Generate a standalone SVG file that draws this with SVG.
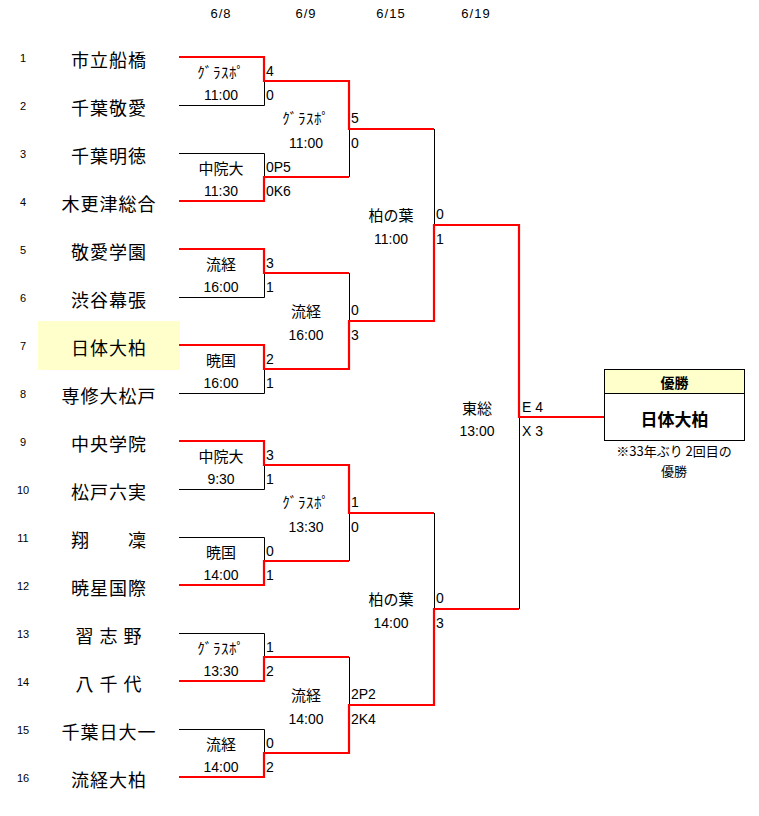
<svg xmlns="http://www.w3.org/2000/svg" width="759" height="816" viewBox="0 0 759 816">
<style>
.bg{fill:#ffffff}
.date{font-family:"Liberation Sans",sans-serif;font-size:13px;letter-spacing:1px;fill:#000;text-anchor:middle;dominant-baseline:central}
.num{font-family:"Liberation Sans",sans-serif;font-size:11px;fill:#000;text-anchor:middle;dominant-baseline:central}
.team{font-family:"Noto Sans CJK JP",sans-serif;font-size:18px;letter-spacing:1px;fill:#000;text-anchor:middle;dominant-baseline:central}
.ven{font-family:"Noto Sans CJK JP",sans-serif;font-size:15px;fill:#000;text-anchor:middle;dominant-baseline:central}
.kana{letter-spacing:0.6px}
.time{font-family:"Liberation Sans",sans-serif;font-size:14px;fill:#000;text-anchor:middle;dominant-baseline:central}
.sc{font-family:"Liberation Sans",sans-serif;font-size:14px;fill:#000;dominant-baseline:central}
.blk{fill:none;stroke:#000;stroke-width:1}
.red{fill:none;stroke:#ff0000;stroke-width:2.2;stroke-linejoin:miter}
.hl{fill:#ffffcc}
.box{fill:#fff;stroke:#000;stroke-width:1}
.boxh{fill:#ffffcc;stroke:#000;stroke-width:1}
.champh{font-family:"Noto Sans CJK JP",sans-serif;font-size:14px;font-weight:bold;fill:#000;text-anchor:middle;dominant-baseline:central}
.champ{font-family:"Noto Sans CJK JP",sans-serif;font-size:17px;font-weight:bold;fill:#000;text-anchor:middle;dominant-baseline:central}
.note{font-family:"Noto Sans CJK JP",sans-serif;font-size:13px;fill:#000;text-anchor:middle;dominant-baseline:central}
</style>
<rect class="bg" x="0" y="0" width="759" height="816"/>

<g id="dates">
<text class="date" x="221" y="13">6/8</text>
<text class="date" x="306" y="13">6/9</text>
<text class="date" x="391" y="13">6/15</text>
<text class="date" x="476" y="13">6/19</text>
</g>

<rect class="hl" x="38" y="321" width="142" height="49"/>

<g id="teams">
<g id="team-1"><text class="num" x="23" y="58">1</text><text class="team" x="109" y="58.5">市立船橋</text></g>
<g id="team-2"><text class="num" x="23" y="106">2</text><text class="team" x="109" y="106.5">千葉敬愛</text></g>
<g id="team-3"><text class="num" x="23" y="154">3</text><text class="team" x="109" y="154.5">千葉明徳</text></g>
<g id="team-4"><text class="num" x="23" y="202">4</text><text class="team" x="109" y="202.5">木更津総合</text></g>
<g id="team-5"><text class="num" x="23" y="250">5</text><text class="team" x="109" y="250.5">敬愛学園</text></g>
<g id="team-6"><text class="num" x="23" y="298">6</text><text class="team" x="109" y="298.5">渋谷幕張</text></g>
<g id="team-7"><text class="num" x="23" y="346">7</text><text class="team" x="109" y="346.5">日体大柏</text></g>
<g id="team-8"><text class="num" x="23" y="394">8</text><text class="team" x="109" y="394.5">専修大松戸</text></g>
<g id="team-9"><text class="num" x="23" y="442">9</text><text class="team" x="109" y="442.5">中央学院</text></g>
<g id="team-10"><text class="num" x="23" y="490">10</text><text class="team" x="109" y="490.5">松戸六実</text></g>
<g id="team-11"><text class="num" x="23" y="538">11</text><text class="team" x="109" y="538.5" xml:space="preserve">翔　　凜</text></g>
<g id="team-12"><text class="num" x="23" y="586">12</text><text class="team" x="109" y="586.5">暁星国際</text></g>
<g id="team-13"><text class="num" x="23" y="634">13</text><text class="team" x="109" y="634.5" xml:space="preserve">習 志 野</text></g>
<g id="team-14"><text class="num" x="23" y="682">14</text><text class="team" x="109" y="682.5" xml:space="preserve">八 千 代</text></g>
<g id="team-15"><text class="num" x="23" y="730">15</text><text class="team" x="109" y="730.5">千葉日大一</text></g>
<g id="team-16"><text class="num" x="23" y="778">16</text><text class="team" x="109" y="778.5">流経大柏</text></g>
</g>

<g id="connectors">
<g id="losers">
<path class="blk" d="M179 105.5 H264.5 V81"/>
<path class="blk" d="M179 153.5 H264.5 V177"/>
<path class="blk" d="M179 297.5 H264.5 V273"/>
<path class="blk" d="M179 393.5 H264.5 V369"/>
<path class="blk" d="M179 489.5 H264.5 V465"/>
<path class="blk" d="M179 537.5 H264.5 V561"/>
<path class="blk" d="M179 633.5 H264.5 V657"/>
<path class="blk" d="M179 729.5 H264.5 V753"/>
<path class="blk" d="M349.5 177 V129"/>
<path class="blk" d="M349.5 273 V321"/>
<path class="blk" d="M349.5 561 V513"/>
<path class="blk" d="M349.5 657 V705"/>
<path class="blk" d="M434.5 129 V225"/>
<path class="blk" d="M434.5 513 V609"/>
<path class="blk" d="M519.5 609 V417"/>
</g>
<g id="winners">
<path class="red" d="M179 57 H264 V81 H349 V129 H434"/>
<path class="red" d="M179 201 H264 V177 H349"/>
<path class="red" d="M179 249 H264 V273 H349"/>
<path class="red" d="M179 345 H264 V369 H349 V321 H434 V225 H519 V417 H604"/>
<path class="red" d="M179 441 H264 V465 H349 V513 H434"/>
<path class="red" d="M179 585 H264 V561 H349"/>
<path class="red" d="M179 681 H264 V657 H349"/>
<path class="red" d="M179 777 H264 V753 H349 V705 H434 V609 H519"/>
</g>
</g>

<g id="round1">
<g id="r1m1"><text class="ven kana" x="221" y="71">ｸﾞﾗｽﾎﾟ</text><text class="time" x="221" y="95">11:00</text><text class="sc" x="266" y="71">4</text><text class="sc" x="266" y="95">0</text></g>
<g id="r1m2"><text class="ven" x="221" y="167">中院大</text><text class="time" x="221" y="191">11:30</text><text class="sc" x="266" y="167">0P5</text><text class="sc" x="266" y="191">0K6</text></g>
<g id="r1m3"><text class="ven" x="221" y="263">流経</text><text class="time" x="221" y="287">16:00</text><text class="sc" x="266" y="263">3</text><text class="sc" x="266" y="287">1</text></g>
<g id="r1m4"><text class="ven" x="221" y="359">暁国</text><text class="time" x="221" y="383">16:00</text><text class="sc" x="266" y="359">2</text><text class="sc" x="266" y="383">1</text></g>
<g id="r1m5"><text class="ven" x="221" y="455">中院大</text><text class="time" x="221" y="479">9:30</text><text class="sc" x="266" y="455">3</text><text class="sc" x="266" y="479">1</text></g>
<g id="r1m6"><text class="ven" x="221" y="551">暁国</text><text class="time" x="221" y="575">14:00</text><text class="sc" x="266" y="551">0</text><text class="sc" x="266" y="575">1</text></g>
<g id="r1m7"><text class="ven kana" x="221" y="647">ｸﾞﾗｽﾎﾟ</text><text class="time" x="221" y="671">13:30</text><text class="sc" x="266" y="647">1</text><text class="sc" x="266" y="671">2</text></g>
<g id="r1m8"><text class="ven" x="221" y="743">流経</text><text class="time" x="221" y="767">14:00</text><text class="sc" x="266" y="743">0</text><text class="sc" x="266" y="767">2</text></g>
</g>

<g id="round2">
<g id="r2m1"><text class="ven kana" x="306" y="117">ｸﾞﾗｽﾎﾟ</text><text class="time" x="306" y="143">11:00</text><text class="sc" x="351" y="118">5</text><text class="sc" x="351" y="143">0</text></g>
<g id="r2m2"><text class="ven" x="306" y="310">流経</text><text class="time" x="306" y="335">16:00</text><text class="sc" x="351" y="310">0</text><text class="sc" x="351" y="335">3</text></g>
<g id="r2m3"><text class="ven kana" x="306" y="501">ｸﾞﾗｽﾎﾟ</text><text class="time" x="306" y="527">13:30</text><text class="sc" x="351" y="502">1</text><text class="sc" x="351" y="527">0</text></g>
<g id="r2m4"><text class="ven" x="306" y="694">流経</text><text class="time" x="306" y="719">14:00</text><text class="sc" x="351" y="694">2P2</text><text class="sc" x="351" y="719">2K4</text></g>
</g>

<g id="round3">
<g id="r3m1"><text class="ven" x="391" y="214">柏の葉</text><text class="time" x="391" y="239">11:00</text><text class="sc" x="436" y="214">0</text><text class="sc" x="436" y="239">1</text></g>
<g id="r3m2"><text class="ven" x="391" y="598">柏の葉</text><text class="time" x="391" y="623">14:00</text><text class="sc" x="436" y="598">0</text><text class="sc" x="436" y="623">3</text></g>
</g>

<g id="final">
<text class="ven" x="477" y="407">東総</text><text class="time" x="477" y="431">13:00</text>
<text class="sc" x="522" y="407" xml:space="preserve">E 4</text><text class="sc" x="522" y="431" xml:space="preserve">X 3</text>
</g>

<g id="champion">
<rect class="box" x="604.5" y="369.5" width="140" height="71"/>
<rect class="boxh" x="604.5" y="369.5" width="140" height="24"/>
<text class="champh" x="674.5" y="382">優勝</text>
<text class="champ" x="674.5" y="418">日体大柏</text>
<text class="note" x="674" y="450.5" xml:space="preserve">※33年ぶり 2回目の</text>
<text class="note" x="674" y="470.5">優勝</text>
</g>
</svg>
